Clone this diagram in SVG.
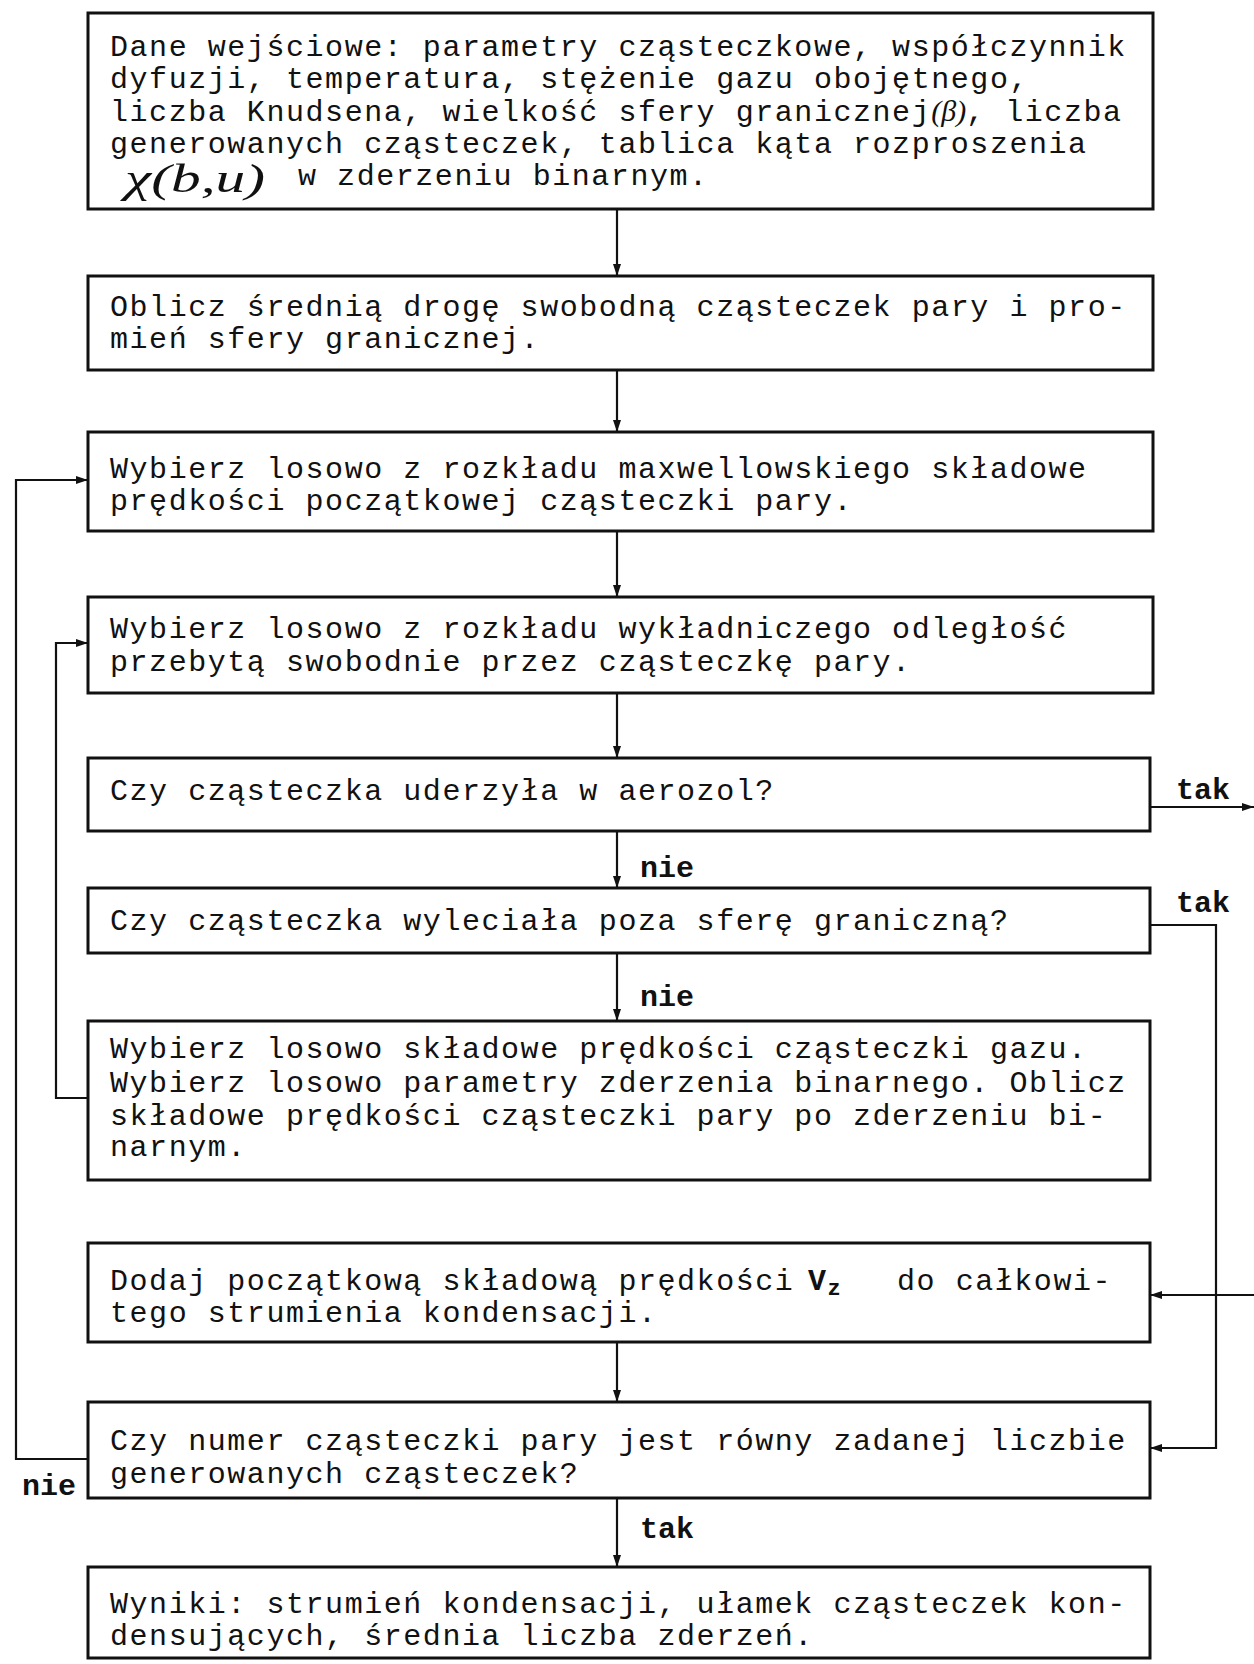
<svg xmlns="http://www.w3.org/2000/svg" width="1254" height="1664" viewBox="0 0 1254 1664">
<defs>
<style>
.box{fill:none;stroke:#111;stroke-width:3}
.t{font-family:"Liberation Mono","DejaVu Sans Mono",monospace;font-size:30px;letter-spacing:1.55px;fill:#111}
.lbl{font-family:"Liberation Mono","DejaVu Sans Mono",monospace;font-size:30px;fill:#111;font-weight:bold}
.hand{font-family:"Liberation Serif",serif;font-style:italic;fill:#111;letter-spacing:0}
.c{fill:none;stroke:#111;stroke-width:2.2}
</style>
<marker id="ah" viewBox="0 0 12 8" refX="12" refY="4" markerWidth="12" markerHeight="8" markerUnits="userSpaceOnUse" orient="auto">
<path d="M0,0 L12,4 L0,8 Z" fill="#111"/>
</marker>
</defs>
<rect width="1254" height="1664" fill="#fff"/>
<g id="connectors">
<line class="c" x1="617" y1="209" x2="617" y2="276" marker-end="url(#ah)"/>
<line class="c" x1="617" y1="370" x2="617" y2="432" marker-end="url(#ah)"/>
<line class="c" x1="617" y1="531" x2="617" y2="597" marker-end="url(#ah)"/>
<line class="c" x1="617" y1="693" x2="617" y2="758" marker-end="url(#ah)"/>
<line class="c" x1="617" y1="831" x2="617" y2="888" marker-end="url(#ah)"/>
<line class="c" x1="617" y1="953" x2="617" y2="1021" marker-end="url(#ah)"/>
<line class="c" x1="617" y1="1342" x2="617" y2="1402" marker-end="url(#ah)"/>
<line class="c" x1="617" y1="1498" x2="617" y2="1567" marker-end="url(#ah)"/>
<polyline class="c" points="88,1459 16,1459 16,480 88,480" marker-end="url(#ah)"/>
<polyline class="c" points="88,1098 56,1098 56,643 88,643" marker-end="url(#ah)"/>
<line class="c" x1="1150" y1="807" x2="1254" y2="807" marker-end="url(#ah)"/>
<polyline class="c" points="1150,925 1216,925 1216,1448 1150,1448" marker-end="url(#ah)"/>
<line class="c" x1="1254" y1="1295" x2="1150" y2="1295" marker-end="url(#ah)"/>
<text class="lbl" x="640" y="877">nie</text>
<text class="lbl" x="640" y="1006">nie</text>
<text class="lbl" x="640" y="1538">tak</text>
<text class="lbl" x="22" y="1495">nie</text>
<text class="lbl" x="1176" y="799">tak</text>
<text class="lbl" x="1176" y="912">tak</text>
</g>
<g id="n1">
<rect class="box" x="88" y="13" width="1065" height="196"/>
<text class="t" x="110" y="56">Dane wejściowe: parametry cząsteczkowe, współczynnik</text>
<text class="t" x="110" y="88">dyfuzji, temperatura, stężenie gazu obojętnego,</text>
<text class="t" x="110" y="121">liczba Knudsena, wielkość sfery granicznej<tspan class="hand" font-size="30">(β)</tspan>, liczba</text>
<text class="t" x="110" y="153">generowanych cząsteczek, tablica kąta rozproszenia</text>
<text class="hand" x="125" y="192" font-size="40" textLength="140" lengthAdjust="spacingAndGlyphs">χ(b,u)</text>
<text class="t" x="298" y="185">w zderzeniu binarnym.</text>
</g>
<g id="n2">
<rect class="box" x="88" y="276" width="1065" height="94"/>
<text class="t" x="110" y="316">Oblicz średnią drogę swobodną cząsteczek pary i pro-</text>
<text class="t" x="110" y="348">mień sfery granicznej.</text>
</g>
<g id="n3">
<rect class="box" x="88" y="432" width="1065" height="99"/>
<text class="t" x="110" y="478">Wybierz losowo z rozkładu maxwellowskiego składowe</text>
<text class="t" x="110" y="510">prędkości początkowej cząsteczki pary.</text>
</g>
<g id="n4">
<rect class="box" x="88" y="597" width="1065" height="96"/>
<text class="t" x="110" y="638">Wybierz losowo z rozkładu wykładniczego odległość</text>
<text class="t" x="110" y="671">przebytą swobodnie przez cząsteczkę pary.</text>
</g>
<g id="n5">
<rect class="box" x="88" y="758" width="1062" height="73"/>
<text class="t" x="110" y="800">Czy cząsteczka uderzyła w aerozol?</text>
</g>
<g id="n6">
<rect class="box" x="88" y="888" width="1062" height="65"/>
<text class="t" x="110" y="930">Czy cząsteczka wyleciała poza sferę graniczną?</text>
</g>
<g id="n7">
<rect class="box" x="88" y="1021" width="1062" height="159"/>
<text class="t" x="110" y="1058">Wybierz losowo składowe prędkości cząsteczki gazu.</text>
<text class="t" x="110" y="1092">Wybierz losowo parametry zderzenia binarnego. Oblicz</text>
<text class="t" x="110" y="1125">składowe prędkości cząsteczki pary po zderzeniu bi-</text>
<text class="t" x="110" y="1156">narnym.</text>
</g>
<g id="n8">
<rect class="box" x="88" y="1243" width="1062" height="99"/>
<text class="t" x="110" y="1290">Dodaj początkową składową prędkości</text>
<text class="t" x="808" y="1290" font-weight="bold" letter-spacing="0">V<tspan font-size="22" dy="5">z</tspan></text>
<text class="t" x="897" y="1290">do całkowi-</text>
<text class="t" x="110" y="1322">tego strumienia kondensacji.</text>
</g>
<g id="n9">
<rect class="box" x="88" y="1402" width="1062" height="96"/>
<text class="t" x="110" y="1450">Czy numer cząsteczki pary jest równy zadanej liczbie</text>
<text class="t" x="110" y="1483">generowanych cząsteczek?</text>
</g>
<g id="n10">
<rect class="box" x="88" y="1567" width="1062" height="91"/>
<text class="t" x="110" y="1613">Wyniki: strumień kondensacji, ułamek cząsteczek kon-</text>
<text class="t" x="110" y="1645">densujących, średnia liczba zderzeń.</text>
</g>
</svg>
